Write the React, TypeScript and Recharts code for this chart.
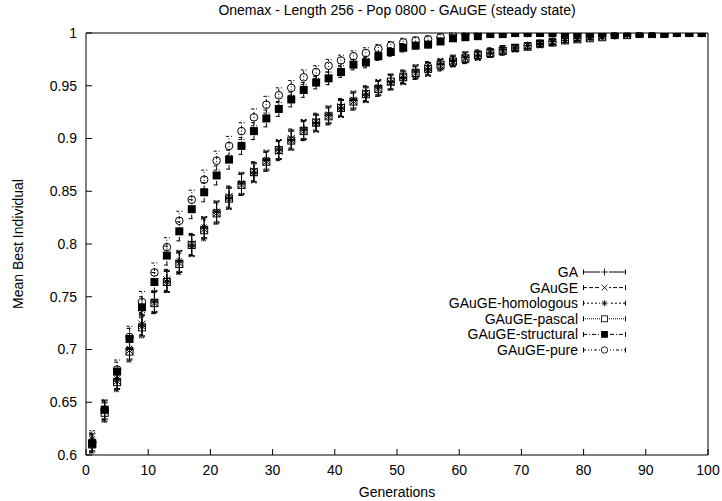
import React from 'react';
import { ScatterChart, Scatter, XAxis, YAxis, ErrorBar, Legend } from 'recharts';

const TITLE = 'Onemax - Length 256 - Pop 0800 - GAuGE (steady state)';
const X_LABEL = 'Generations';
const Y_LABEL = 'Mean Best Individual';

const generations = [
  1, 3, 5, 7, 9, 11, 13, 15, 17, 19,
  21, 23, 25, 27, 29, 31, 33, 35, 37, 39,
  41, 43, 45, 47, 49, 51, 53, 55, 57, 59,
  61, 63, 65, 67, 69, 71, 73, 75, 77, 79,
  81, 83, 85, 87, 89, 91, 93, 95, 97, 99,
];

const xTicks = [0, 10, 20, 30, 40, 50, 60, 70, 80, 90, 100];
const yTicks = [0.6, 0.65, 0.7, 0.75, 0.8, 0.85, 0.9, 0.95, 1];

const gaValues = [
  0.612, 0.641, 0.671, 0.700, 0.723, 0.745, 0.765, 0.783, 0.799, 0.815,
  0.830, 0.844, 0.857, 0.868, 0.879, 0.889, 0.899, 0.908, 0.915, 0.922,
  0.929, 0.936, 0.942, 0.948, 0.954, 0.958, 0.963, 0.966, 0.970, 0.974,
  0.977, 0.979, 0.981, 0.984, 0.986, 0.988, 0.990, 0.992, 0.993, 0.995,
  0.996, 0.997, 0.998, 0.999, 0.999, 0.999, 1.000, 1.000, 1.000, 1.000,
];
const gaugeValues = [
  0.611, 0.642, 0.670, 0.699, 0.724, 0.744, 0.766, 0.782, 0.800, 0.814,
  0.829, 0.845, 0.856, 0.869, 0.878, 0.888, 0.900, 0.907, 0.916, 0.921,
  0.930, 0.935, 0.943, 0.947, 0.953, 0.959, 0.962, 0.967, 0.969, 0.973,
  0.976, 0.980, 0.982, 0.983, 0.986, 0.988, 0.990, 0.991, 0.993, 0.994,
  0.996, 0.997, 0.998, 0.998, 0.999, 0.999, 0.999, 1.000, 1.000, 1.000,
];
const homologousValues = [
  0.615, 0.643, 0.672, 0.701, 0.722, 0.746, 0.764, 0.784, 0.798, 0.816,
  0.831, 0.843, 0.858, 0.867, 0.880, 0.890, 0.898, 0.909, 0.914, 0.923,
  0.928, 0.937, 0.941, 0.949, 0.953, 0.957, 0.964, 0.965, 0.971, 0.973,
  0.977, 0.978, 0.981, 0.984, 0.985, 0.988, 0.989, 0.992, 0.993, 0.995,
  0.996, 0.997, 0.997, 0.998, 0.999, 0.999, 1.000, 1.000, 1.000, 1.000,
];
const pascalValues = [
  0.610, 0.640, 0.669, 0.698, 0.721, 0.744, 0.764, 0.781, 0.799, 0.813,
  0.829, 0.843, 0.856, 0.868, 0.878, 0.889, 0.898, 0.907, 0.915, 0.921,
  0.929, 0.935, 0.942, 0.947, 0.954, 0.958, 0.962, 0.966, 0.970, 0.973,
  0.976, 0.979, 0.981, 0.983, 0.986, 0.987, 0.990, 0.991, 0.993, 0.994,
  0.995, 0.996, 0.998, 0.998, 0.999, 0.999, 0.999, 1.000, 1.000, 1.000,
];
const structuralValues = [
  0.611, 0.643, 0.679, 0.710, 0.740, 0.764, 0.789, 0.812, 0.833, 0.849,
  0.865, 0.880, 0.893, 0.907, 0.919, 0.928, 0.937, 0.946, 0.953, 0.957,
  0.963, 0.970, 0.972, 0.978, 0.982, 0.986, 0.988, 0.989, 0.992, 0.995,
  0.996, 0.997, 0.999, 0.999, 1.000, 1.000, 1.000, 1.000, 1.000, 1.000,
  1.000, 1.000, 1.000, 1.000, 1.000, 1.000, 1.000, 1.000, 1.000, 1.000,
];
const pureValues = [
  0.612, 0.643, 0.681, 0.712, 0.745, 0.773, 0.797, 0.822, 0.842, 0.861,
  0.879, 0.893, 0.907, 0.920, 0.932, 0.941, 0.948, 0.958, 0.963, 0.969,
  0.974, 0.978, 0.981, 0.985, 0.988, 0.991, 0.993, 0.994, 0.996, 0.998,
  0.999, 0.999, 1.000, 1.000, 1.000, 1.000, 1.000, 1.000, 1.000, 1.000,
  1.000, 1.000, 1.000, 1.000, 1.000, 1.000, 1.000, 1.000, 1.000, 1.000,
];

const errSlow = [
  0.008, 0.009, 0.009, 0.010, 0.010, 0.010, 0.010, 0.010, 0.010, 0.010,
  0.010, 0.010, 0.010, 0.009, 0.009, 0.009, 0.009, 0.009, 0.008, 0.008,
  0.008, 0.008, 0.007, 0.007, 0.007, 0.006, 0.006, 0.006, 0.005, 0.005,
  0.005, 0.004, 0.004, 0.004, 0.003, 0.003, 0.003, 0.003, 0.002, 0.002,
  0.002, 0.002, 0.002, 0.001, 0.001, 0.001, 0.000, 0.000, 0.000, 0.000,
];
const errFast = [
  0.009, 0.009, 0.009, 0.010, 0.010, 0.009, 0.009, 0.009, 0.009, 0.009,
  0.009, 0.009, 0.008, 0.008, 0.008, 0.007, 0.007, 0.007, 0.006, 0.006,
  0.005, 0.005, 0.005, 0.004, 0.004, 0.004, 0.003, 0.003, 0.003, 0.002,
  0.001, 0.001, 0.000, 0.000, 0.000, 0.000, 0.000, 0.000, 0.000, 0.000,
  0.000, 0.000, 0.000, 0.000, 0.000, 0.000, 0.000, 0.000, 0.000, 0.000,
];

type MarkerKind = 'plus' | 'cross' | 'star' | 'openSquare' | 'filledSquare' | 'openCircle';

const seriesDefs: { name: string; values: number[]; err: number[]; marker: MarkerKind; dash?: string }[] = [
  { name: 'GA', values: gaValues, err: errSlow, marker: 'plus', dash: undefined },
  { name: 'GAuGE', values: gaugeValues, err: errSlow, marker: 'cross', dash: '4 2' },
  { name: 'GAuGE-homologous', values: homologousValues, err: errSlow, marker: 'star', dash: '2 2' },
  { name: 'GAuGE-pascal', values: pascalValues, err: errSlow, marker: 'openSquare', dash: '1 1' },
  { name: 'GAuGE-structural', values: structuralValues, err: errFast, marker: 'filledSquare', dash: '4 2 1 2' },
  { name: 'GAuGE-pure', values: pureValues, err: errFast, marker: 'openCircle', dash: '3 2 1 2 1 2' },
];

const FONT = '"Liberation Sans", Arial, Helvetica, sans-serif';
const FS = 14;

function Marker({ cx, cy, kind }: { cx: number; cy: number; kind: MarkerKind }) {
  const s = 3.5;
  if (cx == null || cy == null) return null;
  switch (kind) {
    case 'plus':
      return (
        <g stroke="#000" strokeWidth={1}>
          <line x1={cx - s - 0.5} x2={cx + s + 0.5} y1={cy} y2={cy} />
          <line x1={cx} x2={cx} y1={cy - s - 0.5} y2={cy + s + 0.5} />
        </g>
      );
    case 'cross':
      return (
        <g stroke="#000" strokeWidth={1}>
          <line x1={cx - s} x2={cx + s} y1={cy - s} y2={cy + s} />
          <line x1={cx - s} x2={cx + s} y1={cy + s} y2={cy - s} />
        </g>
      );
    case 'star':
      return (
        <g stroke="#000" strokeWidth={1}>
          <line x1={cx - s} x2={cx + s} y1={cy} y2={cy} />
          <line x1={cx} x2={cx} y1={cy - s} y2={cy + s} />
          <line x1={cx - s + 0.8} x2={cx + s - 0.8} y1={cy - s + 0.8} y2={cy + s - 0.8} />
          <line x1={cx - s + 0.8} x2={cx + s - 0.8} y1={cy + s - 0.8} y2={cy - s + 0.8} />
        </g>
      );
    case 'openSquare':
      return <rect x={cx - 3.5} y={cy - 3.5} width={7} height={7} fill="none" stroke="#000" strokeWidth={1} />;
    case 'filledSquare':
      return <rect x={cx - 4} y={cy - 4} width={8} height={8} fill="#000" stroke="none" />;
    case 'openCircle':
      return <circle cx={cx} cy={cy} r={3.8} fill="none" stroke="#000" strokeWidth={1} />;
    default:
      return null;
  }
}

const LEGEND_ROW = 15.6;

function LegendBox() {
  const textX = 148;
  const x1 = 153;
  const x2 = 196;
  const mid = (x1 + x2) / 2;
  return (
    <svg width={280} height={104} style={{ display: 'block', fontFamily: FONT }}>
      {seriesDefs.map((s, i) => {
        const cy = 10 + LEGEND_ROW * i;
        return (
          <g key={s.name}>
            <text x={textX} y={cy + 5} textAnchor="end" fontSize={FS} fill="#000">
              {s.name}
            </text>
            <g stroke="#000" strokeWidth={1}>
              <line x1={x1} x2={x2} y1={cy} y2={cy} strokeDasharray={s.dash} />
              <line x1={x1 + 0.5} x2={x1 + 0.5} y1={cy - 2.5} y2={cy + 2.5} />
              <line x1={x2 - 0.5} x2={x2 - 0.5} y1={cy - 2.5} y2={cy + 2.5} />
            </g>
            <rect x={mid - 4.5} y={cy - 4.5} width={9} height={9} fill="#fff" />
            <g transform={`translate(${mid} ${cy}) scale(0.85) translate(${-mid} ${-cy})`}>
              <Marker cx={mid} cy={cy} kind={s.marker} />
            </g>
          </g>
        );
      })}
    </svg>
  );
}

export default function App() {
  const tickStyle = { fill: '#000', fontSize: FS, fontFamily: FONT };
  return (
    <div style={{ position: 'absolute', left: 0, top: 0, width: 722, height: 501, background: '#fff', fontFamily: FONT }}>
      <ScatterChart width={722} height={501} margin={{ top: 0, right: 0, bottom: 0, left: 0 }}>
        <XAxis
          xAxisId="bottom"
          type="number"
          dataKey="x"
          orientation="bottom"
          domain={[0, 100]}
          ticks={xTicks}
          allowDataOverflow
          height={46}
          tickSize={-6}
          tickMargin={16}
          tick={tickStyle}
          stroke="#000"
          axisLine={{ stroke: '#000' }}
          tickLine={{ stroke: '#000' }}
          label={{ value: X_LABEL, position: 'insideBottom', offset: 4, fill: '#000', fontSize: FS, fontFamily: FONT }}
        />
        <XAxis
          xAxisId="top"
          type="number"
          dataKey="x"
          orientation="top"
          domain={[0, 100]}
          ticks={xTicks}
          allowDataOverflow
          height={33}
          tickSize={-6}
          tick={false}
          axisLine={{ stroke: '#000' }}
          tickLine={{ stroke: '#000' }}
          label={{ value: TITLE, position: 'insideTop', offset: 5, fill: '#000', fontSize: FS, fontFamily: FONT }}
        />
        <YAxis
          yAxisId="left"
          type="number"
          dataKey="y"
          orientation="left"
          domain={[0.6, 1]}
          ticks={yTicks}
          allowDataOverflow
          width={86}
          tickSize={-6}
          tickMargin={15}
          tick={tickStyle}
          tickFormatter={(v: number) => String(v)}
          axisLine={{ stroke: '#000' }}
          tickLine={{ stroke: '#000' }}
          label={{ value: Y_LABEL, angle: -90, position: 'insideLeft', offset: 18, fill: '#000', fontSize: FS, fontFamily: FONT, style: { textAnchor: 'middle' } }}
        />
        <YAxis
          yAxisId="right"
          type="number"
          dataKey="y"
          orientation="right"
          domain={[0.6, 1]}
          ticks={yTicks}
          allowDataOverflow
          width={14}
          tickSize={-6}
          tick={false}
          axisLine={{ stroke: '#000' }}
          tickLine={{ stroke: '#000' }}
        />
        {seriesDefs.map((s) => (
          <Scatter
            key={s.name}
            name={s.name}
            xAxisId="bottom"
            yAxisId="left"
            data={generations.map((g, i) => ({ x: g, y: s.values[i], e: s.err[i] }))}
            isAnimationActive={false}
            shape={(p: any) => <Marker cx={p.cx} cy={p.cy} kind={s.marker} />}
          >
            <ErrorBar dataKey="e" direction="y" width={3} stroke="#000" strokeWidth={1} strokeDasharray={s.dash} isAnimationActive={false} />
          </Scatter>
        ))}
        <Legend
          layout="vertical"
          align="center"
          verticalAlign="middle"
          wrapperStyle={{ left: 430, top: 262, width: 280, height: 104 }}
          content={() => <LegendBox />}
        />
      </ScatterChart>
    </div>
  );
}
